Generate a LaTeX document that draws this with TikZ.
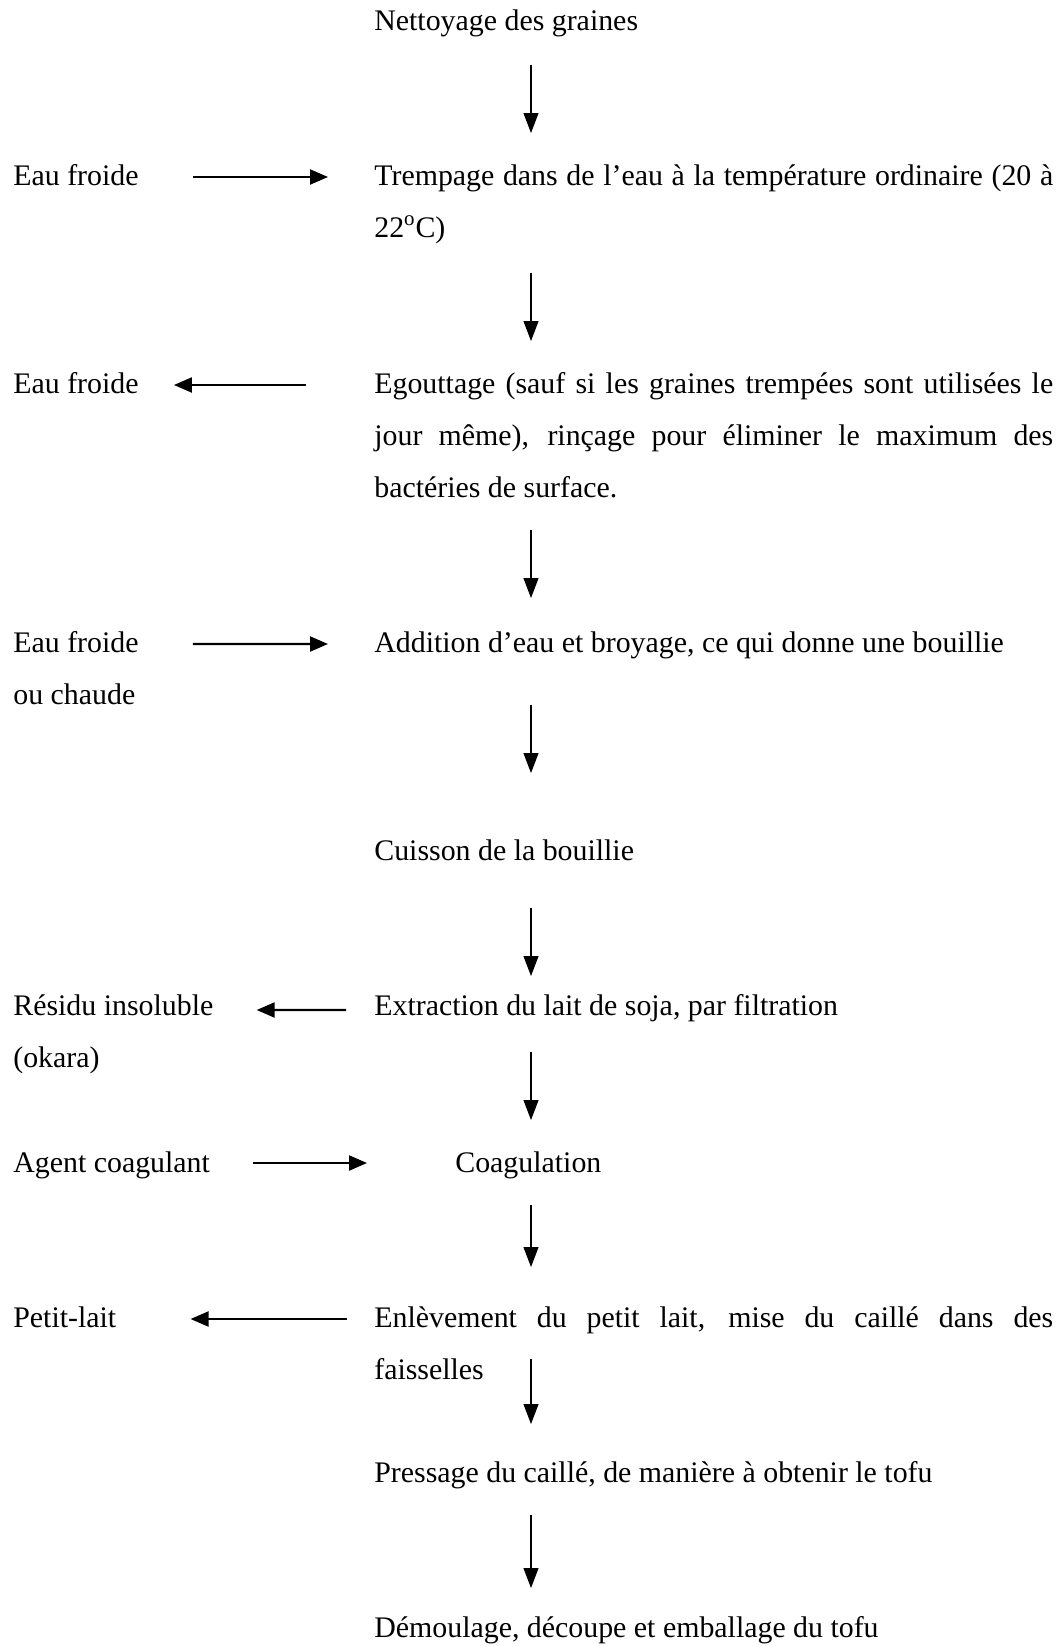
\documentclass[tikz,border=0pt]{standalone}
\usepackage{fontspec}
\setmainfont{Liberation Serif}
\usetikzlibrary{arrows.meta}
\tolerance=10000

\begin{document}
\begin{tikzpicture}[
    x=0.02cm, y=-0.02cm,
    txt/.style={anchor=base west, inner sep=0pt, align=left, font=\fontsize{17}{29.6}\selectfont},
    para/.style={txt, text width=13.58cm, align=justify},
    varr/.style={-{Triangle[length=0.4cm, width=0.3cm]}, line width=0.6pt},
    harr/.style={-{Triangle[length=0.36cm, width=0.3cm]}, line width=1.2pt}
]
\useasboundingbox (0,0) rectangle (1060,1646);
\coordinate (axe) at (531,0);

\node[txt] (nett) at (374,31) {Nettoyage des graines};
\node[para] (tremp) at (374,185) {Trempage dans de l’eau à la température ordinaire (20 à\linebreak 22\textsuperscript{o}C)};
\node[para] (egout) at (374,393) {Egouttage (sauf si les graines trempées sont utilisées le\linebreak jour même), rinçage pour éliminer le maximum des\linebreak bactéries de surface.};
\node[txt] (addit) at (374,652) {Addition d’eau et broyage, ce qui donne une bouillie};
\node[txt] (cuis) at (374,860) {Cuisson de la bouillie};
\node[txt] (extr) at (374,1015) {Extraction du lait de soja, par filtration};
\node[txt] (coag) at (455,1172) {Coagulation};
\node[para] (enlev) at (374,1327) {Enlèvement du petit lait, mise du caillé dans des\linebreak faisselles};
\node[txt] (press) at (374,1482) {Pressage du caillé, de manière à obtenir le tofu};
\node[txt] (demoul) at (374,1637) {Démoulage, découpe et emballage du tofu};

\node[txt] (eau1) at (13,185) {Eau froide};
\node[txt] (eau2) at (13,393) {Eau froide};
\node[txt] (eau3) at (13,704) {Eau froide\\ou chaude};
\node[txt] (resid) at (13,1067) {Résidu insoluble\\(okara)};
\node[txt] (agent) at (13,1172) {Agent coagulant};
\node[txt] (petit) at (13,1327) {Petit-lait};

\draw[varr, shorten <=0.68cm, shorten >=1.04cm] (nett.base -| axe) -- (tremp.base -| axe);
\draw[varr, shorten <=1.76cm, shorten >=1.04cm] (tremp.base -| axe) -- (egout.base -| axe);
\draw[varr, shorten <=2.74cm, shorten >=1.08cm] (egout.base -| axe) -- (addit.base -| axe);
\draw[varr, shorten <=1.06cm, shorten >=1.74cm] (addit.base -| axe) -- (cuis.base -| axe);
\draw[varr, shorten <=0.96cm, shorten >=0.78cm] (cuis.base -| axe) -- (extr.base -| axe);
\draw[varr, shorten <=0.74cm, shorten >=1.04cm] (extr.base -| axe) -- (coag.base -| axe);
\draw[varr, shorten <=0.66cm, shorten >=1.2cm] (coag.base -| axe) -- (enlev.base -| axe);
\draw[varr, shorten <=0.64cm, shorten >=1.16cm] (enlev.base -| axe) -- (press.base -| axe);
\draw[varr, shorten <=0.66cm, shorten >=0.98cm] (press.base -| axe) -- (demoul.base -| axe);

\draw[harr, shorten <=1.08cm, shorten >=0.92cm] ([yshift=0.16cm]eau1.base east) -- ([yshift=0.16cm]tremp.base west);
\draw[harr, shorten <=1.36cm, shorten >=0.7cm] ([yshift=0.16cm]egout.base west) -- ([yshift=0.16cm]eau2.base east);
\draw[harr, shorten <=1.08cm, shorten >=0.92cm] ([yshift=1.2cm]eau3.base east) -- ([yshift=0.16cm]addit.base west);
\draw[harr, shorten <=0.56cm, shorten >=0.86cm] ([yshift=0.1cm]extr.base west) -- ([yshift=1.14cm]resid.base east);
\draw[harr, shorten <=0.86cm, shorten >=1.76cm] ([yshift=0.18cm]agent.base east) -- ([yshift=0.18cm]coag.base west);
\draw[harr, shorten <=0.54cm, shorten >=1.48cm] ([yshift=0.16cm]enlev.base west) -- ([yshift=0.16cm]petit.base east);
\end{tikzpicture}
\end{document}
